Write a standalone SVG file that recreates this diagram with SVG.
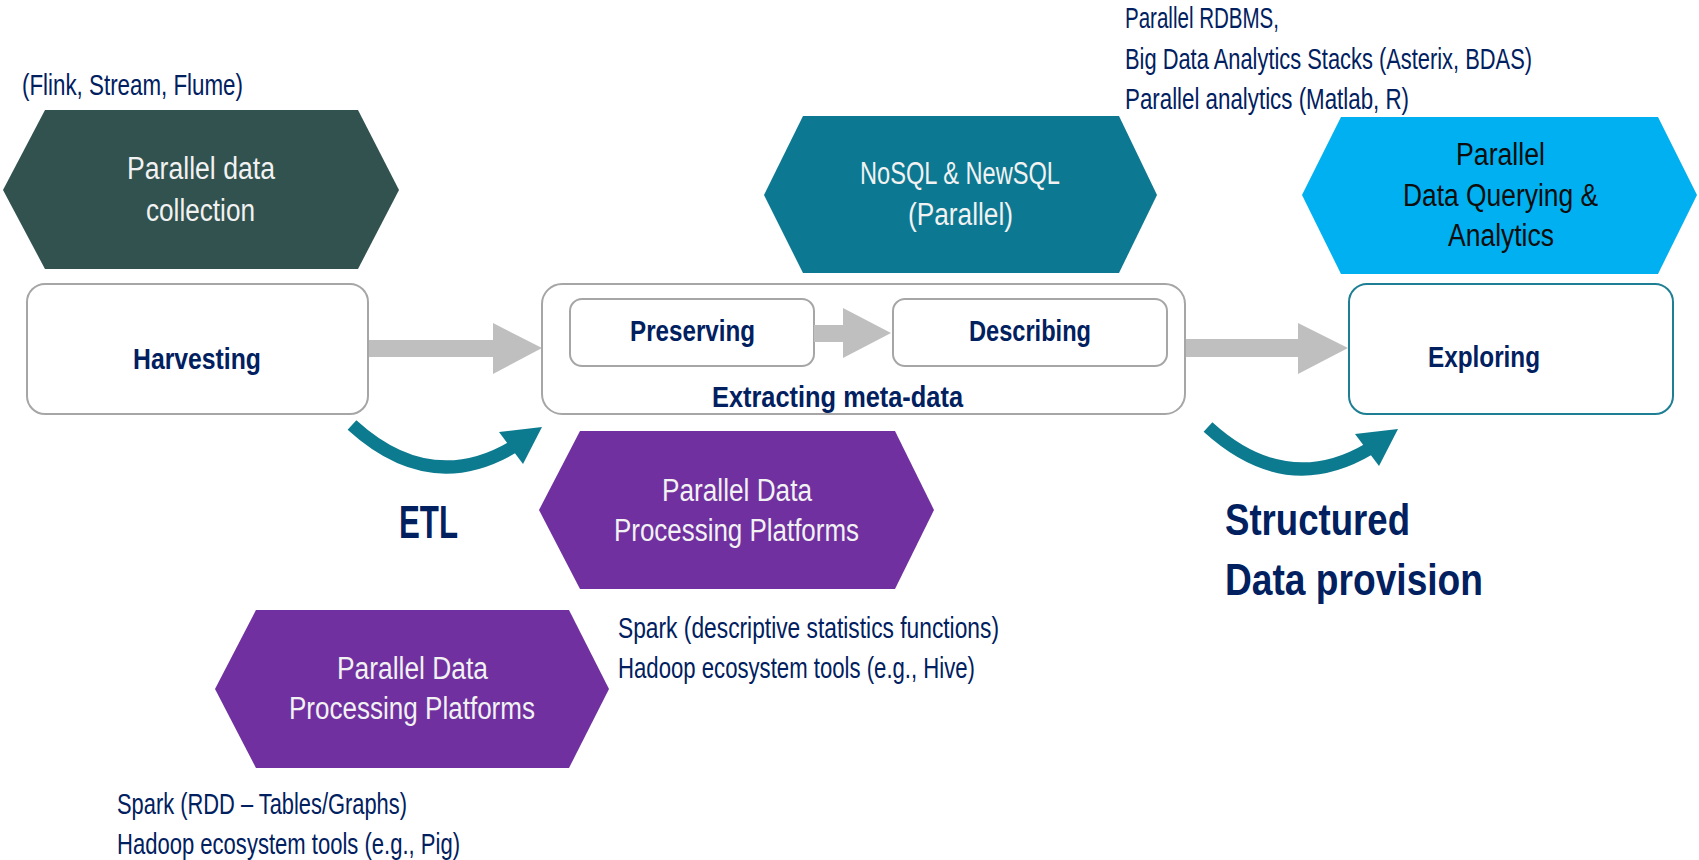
<svg xmlns="http://www.w3.org/2000/svg" width="1699" height="860" viewBox="0 0 1699 860">
  <style>
    text { font-family: "Liberation Sans", Arial, sans-serif; }
    .note { font-size: 29px; fill: #002060; }
    .hex-label { font-size: 31px; fill: #F2F2F2; }
    .hex-label-dark { font-size: 31px; fill: #0D0D0D; }
    .box-label { font-size: 29px; font-weight: bold; fill: #002060; }
    .big-label { font-weight: bold; fill: #002060; }
    .box { fill: #FFFFFF; stroke: #A6A6A6; stroke-width: 2; }
    .block-arrow { fill: #BFBFBF; }
    .curve { fill: none; stroke: #0C7A8F; stroke-width: 13; }
    .curve-head { fill: #0C7A8F; }
  </style>
  <defs>
    <g id="curved-arrow">
      <path class="curve" d="M352,425 Q430,496 513,447"/>
      <polygon class="curve-head" points="542,427 499,432 523,464"/>
    </g>
  </defs>

  <rect width="1699" height="860" fill="#FFFFFF"/>

  <!-- connectors -->
  <g id="connectors">
    <polygon class="block-arrow" points="368,340 493,340 493,323 542,348 493,374 493,357 368,357"/>
    <polygon class="block-arrow" points="1185,339 1298,339 1298,323 1348,348 1298,374 1298,357 1185,357"/>
    <use href="#curved-arrow"/>
    <use href="#curved-arrow" transform="translate(856,2)"/>
  </g>

  <!-- collection -->
  <g id="node-collection">
    <text class="note" x="22" y="95" textLength="221" lengthAdjust="spacingAndGlyphs">(Flink, Stream, Flume)</text>
    <polygon points="45,110 358,110 399,190 358,269 45,269 3,190" fill="#31524F"/>
    <text class="hex-label" x="127" y="179" textLength="148" lengthAdjust="spacingAndGlyphs">Parallel data</text>
    <text class="hex-label" x="146" y="221" textLength="109" lengthAdjust="spacingAndGlyphs">collection</text>
  </g>

  <g id="node-harvesting">
    <rect class="box" x="27" y="284" width="341" height="130" rx="18"/>
    <text class="box-label" x="133" y="369" textLength="128" lengthAdjust="spacingAndGlyphs">Harvesting</text>
  </g>

  <!-- meta-data extraction -->
  <g id="node-extracting">
    <rect class="box" x="542" y="284" width="643" height="130" rx="20"/>
    <text class="box-label" x="712" y="407" textLength="251" lengthAdjust="spacingAndGlyphs">Extracting meta-data</text>
  </g>

  <g id="node-preserving">
    <rect class="box" x="570" y="299" width="244" height="67" rx="12"/>
    <text class="box-label" x="630" y="341" textLength="125" lengthAdjust="spacingAndGlyphs">Preserving</text>
  </g>

  <g id="connector-inner">
    <polygon class="block-arrow" points="814,325 843,325 843,308 891,333 843,358 843,342 814,342"/>
  </g>

  <g id="node-describing">
    <rect class="box" x="893" y="299" width="274" height="67" rx="12"/>
    <text class="box-label" x="969" y="341" textLength="122" lengthAdjust="spacingAndGlyphs">Describing</text>
  </g>

  <g id="node-nosql">
    <polygon points="803,116 1119,116 1157,195 1119,273 803,273 764,195" fill="#0C7891"/>
    <text class="hex-label" x="860" y="184" textLength="200" lengthAdjust="spacingAndGlyphs">NoSQL &amp; NewSQL</text>
    <text class="hex-label" x="908" y="225" textLength="105" lengthAdjust="spacingAndGlyphs">(Parallel)</text>
  </g>

  <!-- querying and analytics -->
  <g id="node-analytics-notes">
    <text class="note" x="1125" y="28" textLength="154" lengthAdjust="spacingAndGlyphs">Parallel RDBMS,</text>
    <text class="note" x="1125" y="69" textLength="407" lengthAdjust="spacingAndGlyphs">Big Data Analytics Stacks (Asterix, BDAS)</text>
    <text class="note" x="1125" y="109" textLength="284" lengthAdjust="spacingAndGlyphs">Parallel analytics (Matlab, R)</text>
  </g>

  <g id="node-querying">
    <polygon points="1341,117 1658,117 1697,195 1658,274 1341,274 1302,195" fill="#00B0F0"/>
    <text class="hex-label-dark" x="1456" y="165" textLength="89" lengthAdjust="spacingAndGlyphs">Parallel</text>
    <text class="hex-label-dark" x="1403" y="206" textLength="195" lengthAdjust="spacingAndGlyphs">Data Querying &amp;</text>
    <text class="hex-label-dark" x="1448" y="246" textLength="106" lengthAdjust="spacingAndGlyphs">Analytics</text>
  </g>

  <g id="node-exploring">
    <rect x="1349" y="284" width="324" height="130" rx="18" fill="#FFFFFF" stroke="#1E7F94" stroke-width="2"/>
    <text class="box-label" x="1428" y="367" textLength="112" lengthAdjust="spacingAndGlyphs">Exploring</text>
  </g>

  <!-- stage labels -->
  <g id="label-etl">
    <text class="big-label" x="399" y="538" font-size="46" textLength="59" lengthAdjust="spacingAndGlyphs">ETL</text>
  </g>

  <g id="label-structured">
    <text class="big-label" x="1225" y="535" font-size="44" textLength="185" lengthAdjust="spacingAndGlyphs">Structured</text>
    <text class="big-label" x="1225" y="595" font-size="44" textLength="258" lengthAdjust="spacingAndGlyphs">Data provision</text>
  </g>

  <!-- processing platforms -->
  <g id="node-processing-meta">
    <polygon points="580,431 895,431 934,510 895,589 580,589 539,510" fill="#7030A0"/>
    <text class="hex-label" x="662" y="501" textLength="150" lengthAdjust="spacingAndGlyphs">Parallel Data</text>
    <text class="hex-label" x="614" y="541" textLength="245" lengthAdjust="spacingAndGlyphs">Processing Platforms</text>
    <text class="note" x="618" y="638" textLength="381" lengthAdjust="spacingAndGlyphs">Spark (descriptive statistics functions)</text>
    <text class="note" x="618" y="678" textLength="357" lengthAdjust="spacingAndGlyphs">Hadoop ecosystem tools (e.g., Hive)</text>
  </g>

  <g id="node-processing-etl">
    <polygon points="256,610 569,610 609,689 569,768 256,768 215,689" fill="#7030A0"/>
    <text class="hex-label" x="337" y="679" textLength="151" lengthAdjust="spacingAndGlyphs">Parallel Data</text>
    <text class="hex-label" x="289" y="719" textLength="246" lengthAdjust="spacingAndGlyphs">Processing Platforms</text>
    <text class="note" x="117" y="814" textLength="290" lengthAdjust="spacingAndGlyphs">Spark (RDD – Tables/Graphs)</text>
    <text class="note" x="117" y="854" textLength="343" lengthAdjust="spacingAndGlyphs">Hadoop ecosystem tools (e.g., Pig)</text>
  </g>
</svg>
